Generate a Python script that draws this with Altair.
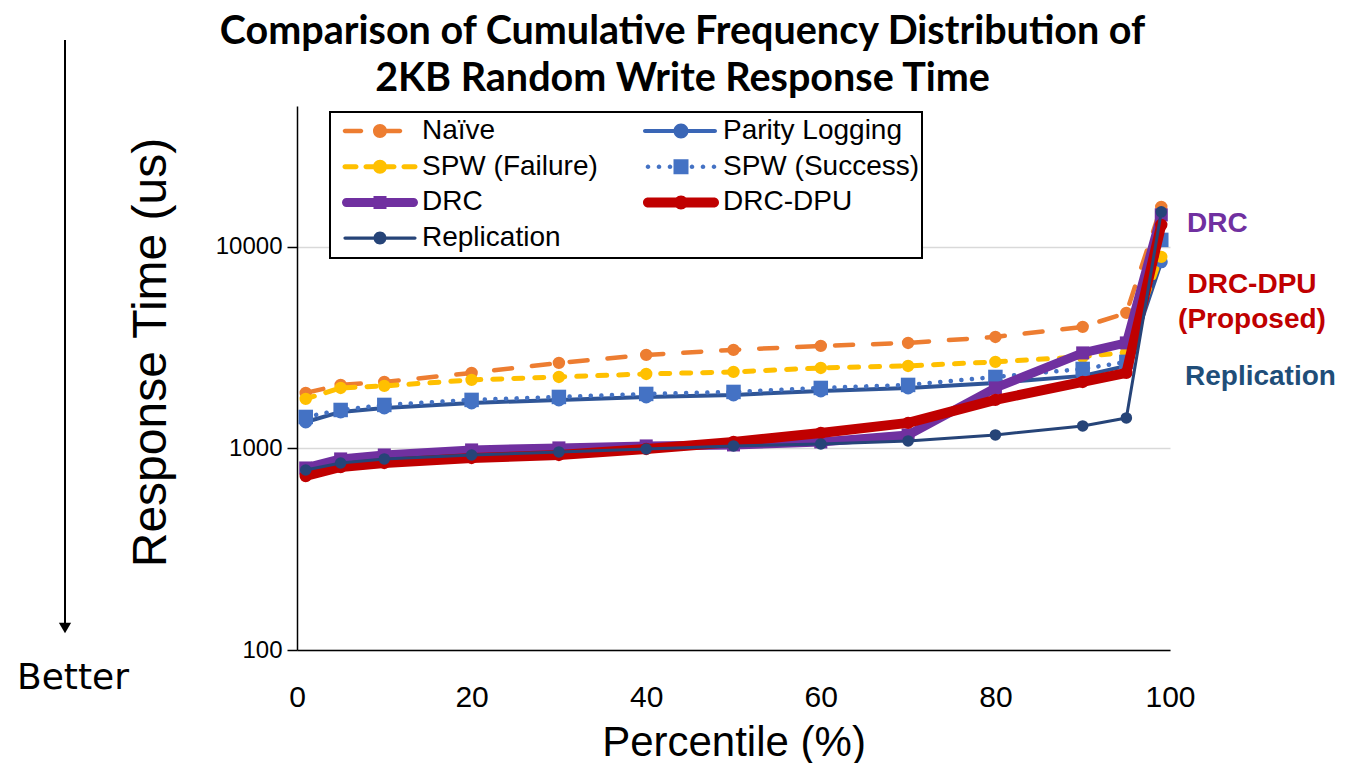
import altair as alt
import pandas as pd

# ---------------- data ----------------
percentiles = [1, 5, 10, 20, 30, 40, 50, 60, 70, 80, 90, 95, 99]

series_names = ["Naïve", "Parity Logging", "SPW (Failure)", "SPW (Success)",
                "DRC", "DRC-DPU", "Replication"]

naive = [1886, 2066, 2138, 2370, 2657, 2911, 3082, 3226, 3338, 3575, 4010, 4705, 15790]
parity_logging = [1353, 1518, 1589, 1682, 1741, 1801, 1843, 1930, 1996, 2113, 2291, 2567, 8430]
spw_failure = [1761, 1996, 2043, 2188, 2263, 2342, 2397, 2508, 2567, 2688, 2850, 3000, 8920]
spw_success = [1433, 1552, 1644, 1741, 1801, 1864, 1907, 1996, 2066, 2263, 2480, 2688, 10830]
drc = [800, 887, 928, 983, 1006, 1029, 1041, 1077, 1167, 1996, 2978, 3338, 14410]
drc_dpu = [730, 809, 847, 897, 928, 994, 1077, 1194, 1339, 1741, 2138, 2370, 12860]
replication = [782, 847, 887, 928, 961, 994, 1029, 1053, 1090, 1167, 1293, 1417, 14920]

series_values = [naive, parity_logging, spw_failure, spw_success, drc, drc_dpu, replication]

x_ticks = [0, 20, 40, 60, 80, 100]
y_ticks = [100, 1000, 10000]

title_lines = ["Comparison of Cumulative Frequency Distribution of",
               "2KB Random Write Response Time"]
annotations = ["DRC", "DRC-DPU", "(Proposed)", "Replication"]

# ---------------- styles ----------------
line_colors = ["#ED7D31", "#2F5597", "#FFC000", "#4472C4", "#7030A0", "#C00000", "#264478"]
marker_colors = ["#ED7D31", "#4472C4", "#FFC000", "#4472C4", "#7030A0", "#C00000", "#264478"]
legend_colors = ["#ED7D31", "#3A66B6", "#FFC000", "#4472C4", "#7030A0", "#C00000", "#264478"]
line_widths = [4.5, 4, 5, 4.5, 9, 10, 3]
line_dashes = [[18, 20], None, [9, 12], [0.1, 10.5], None, None, None]
marker_shapes = ["circle", "circle", "circle", "square", "square", "circle", "circle"]
marker_sizes = [154, 170, 154, 210, 170, 154, 133]

# legend fills column by column: 4 rows x 2 columns
legend_order = [0, 2, 4, 6, 1, 3, 5]

U = 38.0  # half width of legend symbol in px


def f(v):
    return f"{v / U:.4f}"


def bar(x0, x1, h):
    return (f"M{f(x0)},{f(-h)}L{f(x1)},{f(-h)}A{f(h)},{f(h)} 0 0 1 {f(x1)},{f(h)}"
            f"L{f(x0)},{f(h)}A{f(h)},{f(h)} 0 0 1 {f(x0)},{f(-h)}Z")


def circ(cx, r):
    return (f"M{f(cx - r)},0A{f(r)},{f(r)} 0 1 1 {f(cx + r)},0"
            f"A{f(r)},{f(r)} 0 1 1 {f(cx - r)},0Z")


def sq(cx, h):
    return f"M{f(cx - h)},{f(-h)}L{f(cx + h)},{f(-h)}L{f(cx + h)},{f(h)}L{f(cx - h)},{f(h)}Z"


legend_paths = [
    bar(-35, -19, 2.25) + circ(0, 7) + bar(4, 20, 2.25),
    bar(-36, 34, 2.0) + circ(0, 7.5),
    bar(-35, -24, 2.5) + bar(-14, -4, 2.5) + circ(0, 7) + bar(4, 14, 2.5) + bar(24, 35, 2.5),
    circ(-33, 2.3) + circ(-22, 2.3) + circ(-11, 2.3) + sq(0, 7.5)
    + circ(11, 2.3) + circ(22, 2.3) + circ(33, 2.3),
    bar(-33.5, 33.5, 4.5) + sq(0, 6.5),
    bar(-33, 33, 5) + circ(0, 7),
    bar(-35, 35, 1.6) + circ(0, 6.5),
]

rows = []
for name, vals in zip(series_names, series_values):
    for p, v in zip(percentiles, vals):
        rows.append({"series": name, "percentile": p, "time": v})
df = pd.DataFrame(rows)

x_enc = alt.X(
    "percentile:Q",
    scale=alt.Scale(domain=[0, 100], nice=False, zero=False),
    axis=alt.Axis(
        values=x_ticks, title="Percentile (%)", grid=False, ticks=False, tickSize=0,
        domainColor="black", domainWidth=1.5,
        labelFont="Liberation Sans", labelFontSize=30, labelColor="black",
        labelPadding=32, labelFlush=False,
        titleFont="Liberation Sans", titleFontSize=42, titleFontWeight="normal",
        titleColor="black", titlePadding=10,
    ),
)
y_enc = alt.Y(
    "time:Q",
    scale=alt.Scale(type="log", domain=[100, 50000], nice=False),
    axis=alt.Axis(
        values=y_ticks, format="d", title="Response Time (us)",
        domainColor="black", domainWidth=1.5,
        tickColor="black", tickWidth=1.5, tickSize=10,
        gridColor="#D9D9D9", gridWidth=1.5,
        labelFont="Liberation Sans", labelFontSize=24, labelColor="black", labelPadding=5,
        titleFont="Liberation Sans", titleFontSize=48, titleFontWeight="normal",
        titleColor="black", titlePadding=40, titleY=246,
    ),
)

base = alt.Chart(df)

legend_layer = base.transform_filter(alt.datum.percentile < 0).mark_point(
    filled=True, opacity=1, fillOpacity=1).encode(
    x=x_enc, y=y_enc,
    fill=alt.Fill(
        "series:N",
        scale=alt.Scale(domain=[series_names[i] for i in legend_order],
                        range=[legend_colors[i] for i in legend_order]),
        legend=alt.Legend(
            orient="none", legendX=33, legendY=6, columns=2, title=None,
            symbolSize=U * U * 4, symbolStrokeWidth=0, symbolOpacity=1,
            symbolOffset=10, labelOffset=4,
            labelFont="Liberation Sans", labelFontSize=28, labelColor="black",
            labelLimit=400, clipHeight=34, rowPadding=1.7, columnPadding=35,
            padding=2, strokeColor="black", fillColor="white",
        ),
    ),
    shape=alt.Shape("series:N",
                    scale=alt.Scale(domain=[series_names[i] for i in legend_order],
                                    range=[legend_paths[i] for i in legend_order])),
)

layers = [legend_layer]
for i, name in enumerate(series_names):
    sub = base.transform_filter(alt.datum.series == name)
    lk = dict(color=line_colors[i], strokeWidth=line_widths[i], strokeJoin="round",
              strokeCap="round")
    if line_dashes[i]:
        lk["strokeDash"] = line_dashes[i]
    layers.append(sub.mark_line(**lk).encode(x=x_enc, y=y_enc))
    layers.append(
        sub.mark_point(shape=marker_shapes[i], filled=True, size=marker_sizes[i],
                       color=marker_colors[i], opacity=1, strokeWidth=0)
        .encode(x=x_enc, y=y_enc)
    )

one = pd.DataFrame({"t": [0]})
ann_font = "Liberation Sans"
layers.append(alt.Chart(one).mark_text(text=annotations[0], font=ann_font, fontSize=28,
                                       fontWeight="bold", color="#7030A0", align="left",
                                       baseline="middle")
              .encode(x=alt.value(890), y=alt.value(118)))
layers.append(alt.Chart(one).mark_text(text=annotations[1], font=ann_font, fontSize=28,
                                       fontWeight="bold", color="#C00000", align="center",
                                       baseline="middle")
              .encode(x=alt.value(955), y=alt.value(179)))
layers.append(alt.Chart(one).mark_text(text=annotations[2], font=ann_font, fontSize=28,
                                       fontWeight="bold", color="#C00000", align="center",
                                       baseline="middle")
              .encode(x=alt.value(955), y=alt.value(214)))
layers.append(alt.Chart(one).mark_text(text=annotations[3], font=ann_font, fontSize=28,
                                       fontWeight="bold", color="#1F4E79", align="left",
                                       baseline="middle")
              .encode(x=alt.value(888), y=alt.value(271)))

# "Better" arrow on the left
layers.append(alt.Chart(one).mark_rule(color="black", strokeWidth=2)
              .encode(x=alt.value(-232), y=alt.value(-66), y2=alt.value(518)))
layers.append(alt.Chart(one).mark_point(shape="triangle-down", filled=True, size=150,
                                        color="black", opacity=1)
              .encode(x=alt.value(-232), y=alt.value(522)))
layers.append(alt.Chart(one).mark_text(text="Better", font="DejaVu Sans", fontSize=36,
                                       color="black", align="center", baseline="middle")
              .encode(x=alt.value(-224), y=alt.value(572)))

chart = alt.layer(*layers).properties(
    width=873, height=544,
    title=alt.Title(title_lines, font="Lato", fontSize=39.5, fontWeight="bold", color="black",
                    anchor="middle", frame="group", dx=-51, offset=-60, lineHeight=47),
    autosize=alt.AutoSizeParams(type="none"),
    padding={"left": 289, "top": 98, "right": 166, "bottom": 113},
    background="white",
).configure_view(stroke=None).configure_legend(strokeWidth=2)

chart.save("out.html", embed_options={"renderer": "svg", "actions": False})
